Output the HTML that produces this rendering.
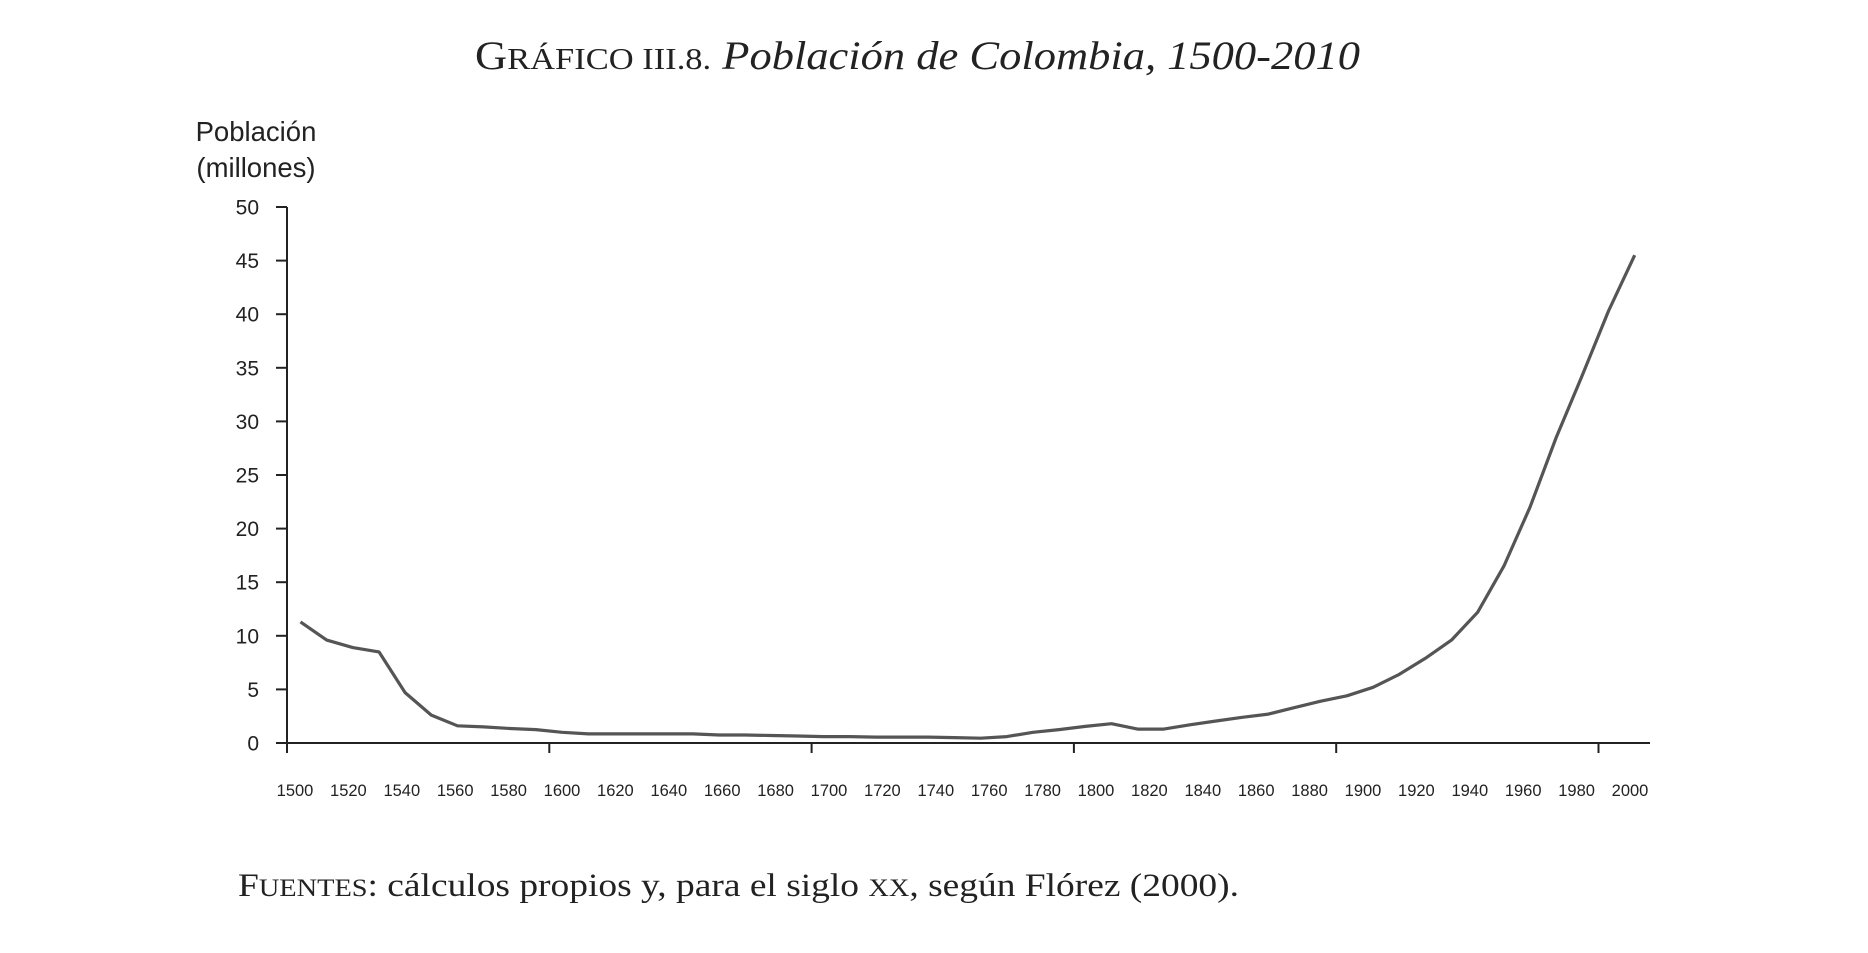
<!DOCTYPE html>
<html><head><meta charset="utf-8"><style>
html,body{margin:0;padding:0;background:#fff;}
svg{display:block;}
</style></head><body>
<svg width="1868" height="953" viewBox="0 0 1868 953" xmlns="http://www.w3.org/2000/svg">
<text x="475" y="69" font-family="Liberation Serif, serif" font-size="40" fill="#222" textLength="885" lengthAdjust="spacingAndGlyphs"><tspan>G</tspan><tspan font-size="31">RÁFICO III</tspan><tspan font-size="31">.8.</tspan><tspan font-style="italic"> Población de Colombia, 1500-2010</tspan></text>
<g font-family="Liberation Sans, sans-serif" fill="#222">
<text x="256" y="141" font-size="27.5" text-anchor="middle">Población</text>
<text x="256" y="177" font-size="27.5" text-anchor="middle">(millones)</text>
</g>
<g font-family="Liberation Sans, sans-serif" font-size="21" fill="#222" text-anchor="end" id="yl"></g>
<g stroke="#222" stroke-width="2" id="ax"></g>
<g font-family="Liberation Sans, sans-serif" font-size="16.5" fill="#222" text-anchor="middle" id="xl"></g>
<polyline id="ln" fill="none" stroke="#555" stroke-width="3.2" stroke-linejoin="round"/>
<text x="238" y="896" font-family="Liberation Serif, serif" font-size="33" fill="#222" textLength="1001" lengthAdjust="spacingAndGlyphs">F<tspan font-size="25">UENTES</tspan>: cálculos propios y, para el siglo <tspan font-size="25">XX</tspan>, según Flórez (2000).</text>
</svg>
<script>
var NS="http://www.w3.org/2000/svg";
function el(p,t,a,tx){var e=document.createElementNS(NS,t);for(var k in a)e.setAttribute(k,a[k]);if(tx!=null)e.textContent=tx;document.getElementById(p).appendChild(e);}
var y0=743,ppu=10.72;
el("ax","line",{x1:287,y1:207,x2:287,y2:753});
el("ax","line",{x1:276,y1:y0,x2:1650,y2:y0});
for(var v=0;v<=50;v+=5){var y=y0-v*ppu;el("ax","line",{x1:276,y1:y,x2:287,y2:y});el("yl","text",{x:259,y:y+7.5},String(v));}
for(var i=0;i<6;i++){var x=287+262.3*i;el("ax","line",{x1:x,y1:y0,x2:x,y2:753});}
for(var i=0;i<26;i++){el("xl","text",{x:295+53.4*i,y:796},String(1500+20*i));}
var d=[11.3,9.6,8.9,8.5,4.7,2.6,1.6,1.5,1.35,1.25,1.0,0.85,0.85,0.85,0.85,0.85,0.75,0.75,0.7,0.65,0.6,0.6,0.55,0.55,0.55,0.5,0.45,0.6,1.0,1.25,1.55,1.8,1.3,1.3,1.7,2.05,2.4,2.7,3.3,3.9,4.4,5.2,6.4,7.9,9.6,12.2,16.5,22,28.5,34.3,40.3,45.5];
var pts=d.map(function(v,i){return (300.5+26.16*i).toFixed(1)+","+(y0-v*ppu).toFixed(1);}).join(" ");
document.getElementById("ln").setAttribute("points",pts);
</script>
</body></html>
